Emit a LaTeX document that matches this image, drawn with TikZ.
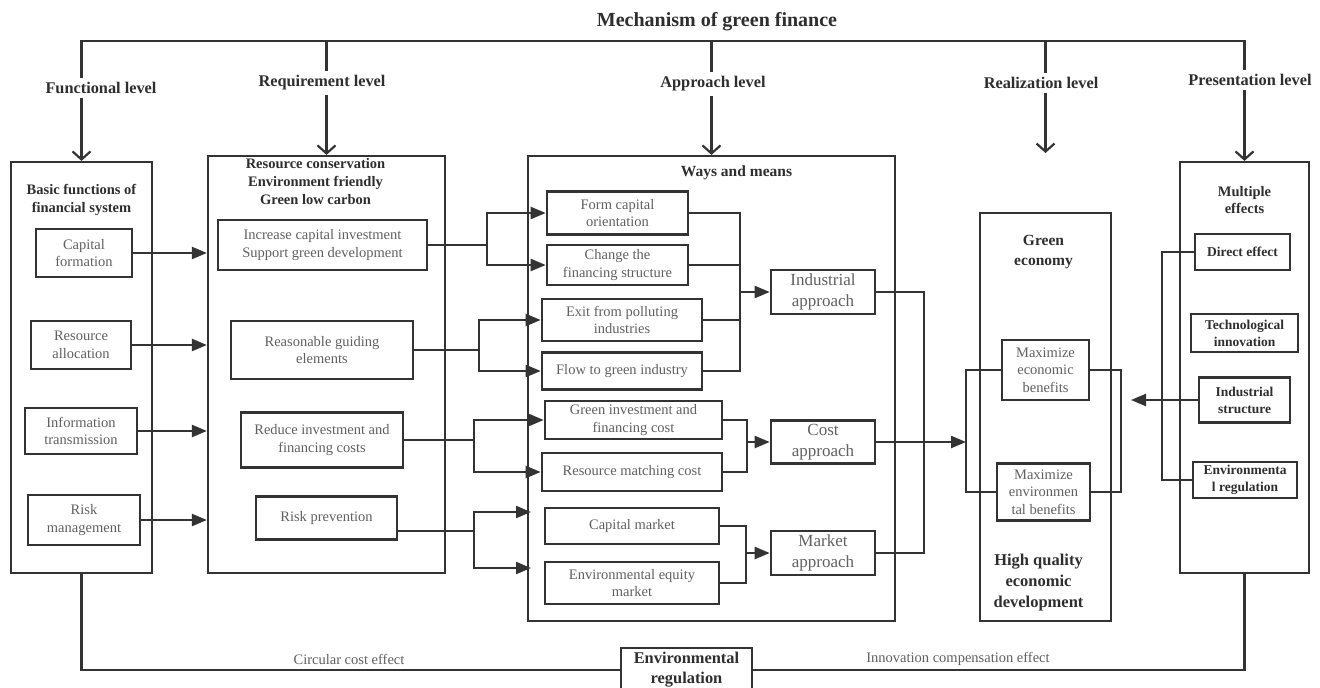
\documentclass[tikz,border=0pt]{standalone}
\usepackage{fontspec}
\setmainfont{Liberation Serif}
\usepackage{xcolor}
\usetikzlibrary{arrows.meta, positioning, calc}
\definecolor{linec}{HTML}{333333}
\definecolor{txtc}{HTML}{606060}
\definecolor{headc}{HTML}{2E2E2E}
\tikzset{
    outerbox/.style={rectangle, draw=linec, line width=2.2pt, inner sep=0pt},
    itembox/.style={rectangle, draw=linec, line width=2.6pt, inner sep=0pt, align=center, text=txtc, font=\fontsize{14.5}{17.5}\selectfont},
    effbox/.style={itembox, text=headc, font=\bfseries\fontsize{13.5}{17}\selectfont},
    apbox/.style={itembox, font=\fontsize{17}{21}\selectfont},
    head/.style={align=center, text=headc, font=\bfseries\fontsize{14.5}{18}\selectfont, inner sep=1pt},
    levlabel/.style={text=headc, font=\bfseries\fontsize{16.3}{18}\selectfont, inner sep=4pt},
    note/.style={text=txtc, font=\fontsize{14.5}{16}\selectfont, inner sep=1pt},
    link/.style={draw=linec, line width=2.2pt},
    arrow/.style={link, -{Triangle[length=15pt, width=12pt]}},
    levarrow/.style={link, -{Straight Barb[length=8pt, width=18pt]}},
}

\begin{document}
\begin{tikzpicture}[x=1pt, y=-1pt]
    \useasboundingbox (0,0) rectangle (1320,688);

    % Title and levels
    \node[text=headc, font=\bfseries\fontsize{20}{22}\selectfont] (title) at (717,22) {Mechanism of green finance};
    \node[levlabel] (flev) at (101,88) {Functional level};
    \node[levlabel] (rqlev) at (322,83) {Requirement level};
    \node[levlabel] (aplev) at (713,84) {Approach level};
    \node[levlabel] (rllev) at (1041,83) {Realization level};
    \node[levlabel] (prlev) at (1250,80) {Presentation level};
    \coordinate (topl) at (0,41);

    % Level boxes
    \node[outerbox, minimum width=141pt, minimum height=411pt] (func) at (81.5,367.5) {};
    \node[outerbox, minimum width=237pt, minimum height=417pt] (req) at (326.5,364.5) {};
    \node[outerbox, minimum width=367pt, minimum height=465pt] (ways) at (711.5,388.5) {};
    \node[outerbox, minimum width=131pt, minimum height=408pt] (real) at (1045.5,417) {};
    \node[outerbox, minimum width=129pt, minimum height=411pt] (pres) at (1244.5,367.5) {};
    \coordinate (realtop) at (1045.5,153);

    % Top bracket
    \draw[link] (func.north |- flev.north) -- (func.north |- topl) -| (pres.north |- prlev.north);
    \draw[link] (req.north |- rqlev.north) -- (req.north |- topl);
    \draw[link] (ways.north |- aplev.north) -- (ways.north |- topl);
    \draw[link] (real.north |- rllev.north) -- (real.north |- topl);
    \draw[levarrow] (func.north |- flev.south) -- (func.north);
    \draw[levarrow] (req.north |- rqlev.south) -- (req.north);
    \draw[levarrow] (ways.north |- aplev.south) -- (ways.north);
    \draw[levarrow] (real.north |- rllev.south) -- (realtop);
    \draw[levarrow] (pres.north |- prlev.south) -- (pres.north);

    % Headings
    \node[head, below=22pt of func.north] (funchd) {Basic functions of\\financial system};
    \node[head, below=2pt of req.north, xshift=-11pt] (reqhd) {Resource conservation\\Environment friendly\\Green low carbon};
    \node[head, below=10pt of ways.north, xshift=25pt, font=\bfseries\fontsize{15.5}{18}\selectfont] (wayshd) {Ways and means};
    \node[head, below=22pt of real.north, xshift=-2pt, font=\bfseries\fontsize{15.5}{20}\selectfont] (realhd) {Green\\economy};
    \node[head, above=10pt of real.south, xshift=-7pt, font=\bfseries\fontsize{16.5}{21}\selectfont] (hqed) {High quality\\economic\\development};
    \node[head, below=24pt of pres.north, font=\bfseries\fontsize{14.5}{17.5}\selectfont] (preshd) {Multiple\\effects};

    % Functional level
    \node[itembox, minimum width=96pt, minimum height=48pt] (capf) at (84,253) {Capital\\formation};
    \node[itembox, minimum width=100pt, minimum height=48pt] (resa) at (81,345) {Resource\\allocation};
    \node[itembox, minimum width=112pt, minimum height=46pt] (info) at (81,431) {Information\\transmission};
    \node[itembox, minimum width=112pt, minimum height=50pt] (riskm) at (84,520) {Risk\\management};

    % Requirement level
    \node[itembox, minimum width=209pt, minimum height=50pt] (incr) at (322.5,245) {Increase capital investment\\Support green development};
    \node[itembox, minimum width=182pt, minimum height=58pt] (guide) at (322,350) {Reasonable guiding\\elements};
    \node[itembox, minimum width=162pt, minimum height=55pt] (reduce) at (322,440) {Reduce investment and\\financing costs};
    \node[itembox, minimum width=141pt, minimum height=43pt] (riskp) at (326.5,518) {Risk prevention};

    % Approach level
    \node[itembox, minimum width=141pt, minimum height=43pt] (formc) at (617.5,213) {Form capital\\orientation};
    \node[itembox, minimum width=141pt, minimum height=40pt] (chgf) at (617.5,265) {Change the\\financing structure};
    \node[itembox, minimum width=160pt, minimum height=42pt] (exitp) at (622,320) {Exit from polluting\\industries};
    \node[itembox, minimum width=160pt, minimum height=37pt] (flowg) at (622,371) {Flow to green industry};
    \node[itembox, minimum width=177pt, minimum height=38pt] (ginv) at (633.5,420) {Green investment and\\financing cost};
    \node[itembox, minimum width=180pt, minimum height=38pt] (resm) at (632,472) {Resource matching cost};
    \node[itembox, minimum width=174pt, minimum height=36pt] (capm) at (632,526) {Capital market};
    \node[itembox, minimum width=174pt, minimum height=42pt] (enveq) at (632,583) {Environmental equity\\market};
    \node[apbox, minimum width=104pt, minimum height=44pt] (indap) at (823,292) {Industrial\\approach};
    \node[apbox, minimum width=104pt, minimum height=43pt] (costap) at (823,442) {Cost\\approach};
    \node[apbox, minimum width=104pt, minimum height=44pt] (mktap) at (823,553) {Market\\approach};

    % Realization level
    \node[itembox, minimum width=87pt, minimum height=60pt] (maxeco) at (1045.5,370) {Maximize\\economic\\benefits};
    \node[itembox, minimum width=93pt, minimum height=57pt] (maxenv) at (1043.5,492) {Maximize\\environmen\\tal benefits};

    % Presentation level
    \node[effbox, minimum width=95pt, minimum height=36pt] (direct) at (1242.5,252) {Direct effect};
    \node[effbox, minimum width=107pt, minimum height=38pt] (techi) at (1244.5,333) {Technological\\innovation};
    \node[effbox, minimum width=91pt, minimum height=45pt] (indst) at (1244.5,400) {Industrial\\structure};
    \node[effbox, minimum width=104pt, minimum height=36pt] (envr) at (1245,480) {Environmenta\\l regulation};

    % Feedback
    \node[itembox, text=headc, font=\bfseries\fontsize{16.4}{20}\selectfont, minimum width=131pt, minimum height=44pt] (envreg) at (686.5,670) {Environmental\\regulation};
    \node[note] (circ) at (349,659) {Circular cost effect};
    \node[note] (innov) at (958,659) {Innovation compensation effect};

    % Junction points
    \coordinate (j1) at (740,292);
    \coordinate (j2) at (747,442);
    \coordinate (j3) at (746,553);
    \coordinate (j4) at (924,442);
    \coordinate (lbr) at (966,442);
    \coordinate (rbr) at (1121,431);
    \coordinate (pbr) at (1162,400);
    \coordinate (pin) at (1131,400);
    \coordinate (cmin) at (531,512);
    \coordinate (emin) at (531,568);

    % Functional to requirement
    \draw[arrow] (capf.east) -- (capf.east -| req.west);
    \draw[arrow] (resa.east) -- (resa.east -| req.west);
    \draw[arrow] (info.east) -- (info.east -| req.west);
    \draw[arrow] (riskm.east) -- (riskm.east -| req.west);

    % Requirement to approach
    \draw[arrow] (incr.east) -- ++(59,0) |- (formc.west);
    \draw[arrow] (incr.east) -- ++(59,0) |- (chgf.west);
    \draw[arrow] (guide.east) -- ++(65,0) |- (exitp.west);
    \draw[arrow] (guide.east) -- ++(65,0) |- (flowg.west);
    \draw[arrow] (reduce.east) -- ++(70,0) |- (ginv.west);
    \draw[arrow] (reduce.east) -- ++(70,0) |- (resm.west);
    \draw[arrow] ([yshift=-13pt]riskp.east) -- ++(76,0) |- (cmin);
    \draw[arrow] ([yshift=-13pt]riskp.east) -- ++(76,0) |- (emin);

    % Ways to approaches
    \draw[link] (formc.east) -| (j1);
    \draw[link] (chgf.east) -| (j1);
    \draw[link] (exitp.east) -| (j1);
    \draw[link] (flowg.east) -| (j1);
    \draw[arrow] (j1) -- (indap.west);
    \draw[link] (ginv.east) -| (j2);
    \draw[link] (resm.east) -| (j2);
    \draw[arrow] (j2) -- (costap.west);
    \draw[link] (capm.east) -| (j3);
    \draw[link] (enveq.east) -| (j3);
    \draw[arrow] (j3) -- (mktap.west);

    % Approaches to realization
    \draw[link] (indap.east) -| (j4);
    \draw[link] (mktap.east) -| (j4);
    \draw[arrow] (costap.east) -- (lbr);
    \draw[link] (maxeco.west) -| (lbr);
    \draw[link] (maxenv.west) -| (lbr);
    \draw[link] (maxeco.east) -| (rbr);
    \draw[link] (maxenv.east) -| (rbr);

    % Presentation to realization
    \draw[link] (direct.west) -| (pbr);
    \draw[link] (envr.west) -| (pbr);
    \draw[arrow] (indst.west) -- (pin);

    % Bottom loop
    \draw[link] (func.south) |- (envreg.west);
    \draw[link] (pres.south) |- (envreg.east);
\end{tikzpicture}
\end{document}
